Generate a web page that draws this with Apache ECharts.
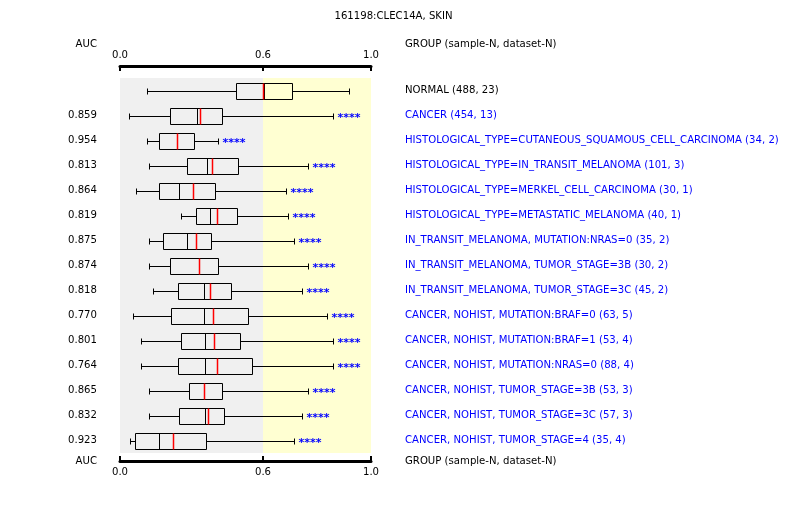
<!DOCTYPE html>
<html>
<head>
<meta charset="utf-8">
<title>161198:CLEC14A, SKIN</title>
<script src="https://cdn.jsdelivr.net/npm/echarts@6.0.0/dist/echarts.min.js"></script>
<style>
    html, body { margin: 0; padding: 0; background: #fff; }
    #box_auc { width: 787px; height: 505px; }
</style>
</head>
<body>
<div id="box_auc"></div>
<script>

// Chart data
// ------------------------------

var GROUP_LABELS = [
    'NORMAL (488, 23)',
    'CANCER (454, 13)',
    'HISTOLOGICAL_TYPE=CUTANEOUS_SQUAMOUS_CELL_CARCINOMA (34, 2)',
    'HISTOLOGICAL_TYPE=IN_TRANSIT_MELANOMA (101, 3)',
    'HISTOLOGICAL_TYPE=MERKEL_CELL_CARCINOMA (30, 1)',
    'HISTOLOGICAL_TYPE=METASTATIC_MELANOMA (40, 1)',
    'IN_TRANSIT_MELANOMA, MUTATION:NRAS=0 (35, 2)',
    'IN_TRANSIT_MELANOMA, TUMOR_STAGE=3B (30, 2)',
    'IN_TRANSIT_MELANOMA, TUMOR_STAGE=3C (45, 2)',
    'CANCER, NOHIST, MUTATION:BRAF=0 (63, 5)',
    'CANCER, NOHIST, MUTATION:BRAF=1 (53, 4)',
    'CANCER, NOHIST, MUTATION:NRAS=0 (88, 4)',
    'CANCER, NOHIST, TUMOR_STAGE=3B (53, 3)',
    'CANCER, NOHIST, TUMOR_STAGE=3C (57, 3)',
    'CANCER, NOHIST, TUMOR_STAGE=4 (35, 4)'
];
var AUC_LABELS = ['', '0.859', '0.954', '0.813', '0.864', '0.819', '0.875', '0.874',
    '0.818', '0.770', '0.801', '0.764', '0.865', '0.832', '0.923'];

var WHISKER_LOW  = [0.112, 0.039, 0.112, 0.120, 0.066, 0.255, 0.120, 0.120, 0.140, 0.056, 0.089, 0.089, 0.120, 0.120, 0.041];
var Q1           = [0.486, 0.211, 0.165, 0.280, 0.162, 0.318, 0.179, 0.211, 0.245, 0.215, 0.257, 0.245, 0.291, 0.249, 0.064];
var MEDIAN       = [0.605, 0.322, 0.238, 0.364, 0.246, 0.379, 0.280, 0.330, 0.351, 0.351, 0.358, 0.358, 0.354, 0.358, 0.162];
var MEAN         = [0.600, 0.337, 0.240, 0.387, 0.308, 0.408, 0.320, 0.333, 0.376, 0.391, 0.393, 0.408, 0.354, 0.370, 0.224];
var Q3           = [0.709, 0.427, 0.312, 0.496, 0.400, 0.492, 0.383, 0.412, 0.467, 0.538, 0.505, 0.555, 0.429, 0.438, 0.362];
var WHISKER_HIGH = [0.920, 0.860, 0.412, 0.768, 0.686, 0.691, 0.716, 0.768, 0.746, 0.838, 0.860, 0.860, 0.768, 0.746, 0.716];
var SIGNIFICANCE = ['', '****', '****', '****', '****', '****', '****', '****',
    '****', '****', '****', '****', '****', '****', '****'];

var TICK_VALUES = [0.0, 0.6, 1.0];
var TICK_LABELS = ['0.0', '0.6', '1.0'];


// Setup module
// ------------------------------

var BoxAucChart = function() {

    // the source axis is stretched: 0-0.6 takes 143px, 0.6-1.0 takes 108px
    var SPLIT = 143 / 251;
    var toAxis = function(v) {
        return v <= 0.6 ? v / 0.6 * SPLIT : SPLIT + (v - 0.6) / 0.4 * (1 - SPLIT);
    };

    var FONT = 'DejaVu Sans';
    var FONT_SIZE = 10.15;
    var BLUE = '#0000ff';

    var _boxChart = function() {
        if (typeof echarts == 'undefined') {
            console.warn('Warning - echarts.min.js is not loaded.');
            return;
        }

        var box_element = document.getElementById('box_auc');
        if (!box_element) {
            return;
        }

        var chart = echarts.init(box_element, null, {renderer: 'canvas'});

        // rows built from the named arrays
        var rows = [];
        for (var i = 0; i < GROUP_LABELS.length; i++) {
            rows.push([i, toAxis(WHISKER_LOW[i]), toAxis(Q1[i]), toAxis(MEDIAN[i]),
                toAxis(MEAN[i]), toAxis(Q3[i]), toAxis(WHISKER_HIGH[i])]);
        }
        var tickPos = TICK_VALUES.map(toAxis);

        var tickLabel = function(value) {
            for (var k = 0; k < tickPos.length; k++) {
                if (Math.abs(tickPos[k] - value) < 1e-6) return TICK_LABELS[k];
            }
            return '';
        };

        var renderBox = function(params, api) {
            var row = api.value(0);
            var px = function(dim) { return api.coord([api.value(dim), row])[0]; };
            var y = Math.round(api.coord([0, row])[1]) + 0.5;
            var snap = function(x) { return Math.round(x) + 0.5; };
            var lo = snap(px(1)), q1 = snap(px(2)), med = snap(px(3)),
                mean = snap(px(4)), q3 = snap(px(5)), hi = snap(px(6));
            var half = 8, cap = 3;
            var ls = {stroke: '#000', lineWidth: 1, fill: null};

            var children = [
                {type: 'line', shape: {x1: lo, y1: y, x2: q1, y2: y}, style: ls},
                {type: 'line', shape: {x1: q3, y1: y, x2: hi, y2: y}, style: ls},
                {type: 'line', shape: {x1: lo, y1: y - cap, x2: lo, y2: y + cap}, style: ls},
                {type: 'line', shape: {x1: hi, y1: y - cap, x2: hi, y2: y + cap}, style: ls},
                {type: 'rect', shape: {x: q1, y: y - half, width: q3 - q1, height: half * 2},
                    style: {stroke: '#000', lineWidth: 1, fill: null}},
                {type: 'line', shape: {x1: med, y1: y - half, x2: med, y2: y + half}, style: ls},
                {type: 'line', shape: {x1: mean, y1: y - half, x2: mean, y2: y + half},
                    style: {stroke: '#ff0000', lineWidth: 1.5}}
            ];
            if (SIGNIFICANCE[row]) {
                children.push({
                    type: 'text',
                    style: {
                        x: hi + 4, y: y + 1.5,
                        text: SIGNIFICANCE[row],
                        fill: BLUE,
                        font: 'bold 11px "' + FONT + '"',
                        verticalAlign: 'middle'
                    }
                });
            }
            return {type: 'group', children: children};
        };

        var xAxisBase = function(position, offset, margin) {
            return {
                type: 'value',
                position: position,
                offset: offset,
                min: 0,
                max: 1,
                axisLine: {show: true, lineStyle: {color: '#000', width: 3}},
                axisTick: {show: true, inside: true, length: 5, customValues: tickPos,
                    lineStyle: {color: '#000', width: 2}},
                axisLabel: {show: true, customValues: tickPos, margin: margin, color: '#000',
                    fontFamily: FONT, fontSize: FONT_SIZE, formatter: tickLabel},
                splitLine: {show: false}
            };
        };

        // header texts, anchored by their own x/y so 'right' alignment works
        var headerText = function(x, y, text, align) {
            return {
                type: 'text', x: x, y: y,
                style: {text: text, fill: '#000', font: FONT_SIZE + 'px "' + FONT + '"',
                    align: align, verticalAlign: 'middle'}
            };
        };

        chart.setOption({
            animation: false,
            backgroundColor: '#fff',
            textStyle: {fontFamily: FONT, fontSize: FONT_SIZE},

            title: {
                text: '161198:CLEC14A, SKIN',
                left: 'center',
                top: 6,
                textStyle: {fontSize: FONT_SIZE, fontWeight: 'normal', color: '#000', fontFamily: FONT}
            },

            grid: {left: 120, right: 416, top: 78, height: 375, containLabel: false},

            xAxis: [
                xAxisBase('top', 12, 6),
                xAxisBase('bottom', 8, 6)
            ],

            yAxis: [{
                type: 'category',
                inverse: true,
                position: 'left',
                data: AUC_LABELS,
                axisLine: {show: false},
                axisTick: {show: false},
                axisLabel: {margin: 23, color: '#000', fontFamily: FONT, fontSize: FONT_SIZE}
            }, {
                type: 'category',
                inverse: true,
                position: 'right',
                data: GROUP_LABELS,
                axisLine: {show: false},
                axisTick: {show: false},
                axisLabel: {
                    margin: 34,
                    fontFamily: FONT,
                    fontSize: FONT_SIZE,
                    color: function(value, index) {
                        return index === 0 ? '#000' : BLUE;
                    }
                }
            }],

            graphic: [
                headerText(97, 44, 'AUC', 'right'),
                headerText(405, 44, 'GROUP (sample-N, dataset-N)', 'left'),
                headerText(97, 461, 'AUC', 'right'),
                headerText(405, 461, 'GROUP (sample-N, dataset-N)', 'left')
            ],

            series: [{
                // shaded AUC zones
                type: 'line',
                silent: true,
                data: [],
                markArea: {
                    silent: true,
                    data: [
                        [{xAxis: 0, itemStyle: {color: '#f0f0f0'}}, {xAxis: SPLIT}],
                        [{xAxis: SPLIT, itemStyle: {color: '#ffffd2'}}, {xAxis: 1}]
                    ]
                }
            }, {
                name: 'AUC',
                type: 'custom',
                xAxisIndex: 0,
                yAxisIndex: 0,
                renderItem: renderBox,
                encode: {x: [1, 2, 3, 4, 5, 6], y: 0},
                data: rows,
                z: 3
            }]
        });
    };

    return {
        init: function() {
            _boxChart();
        }
    }
}();


// Initialize module
// ------------------------------

document.addEventListener('DOMContentLoaded', function() {
    BoxAucChart.init();
});
</script>
</body>
</html>
